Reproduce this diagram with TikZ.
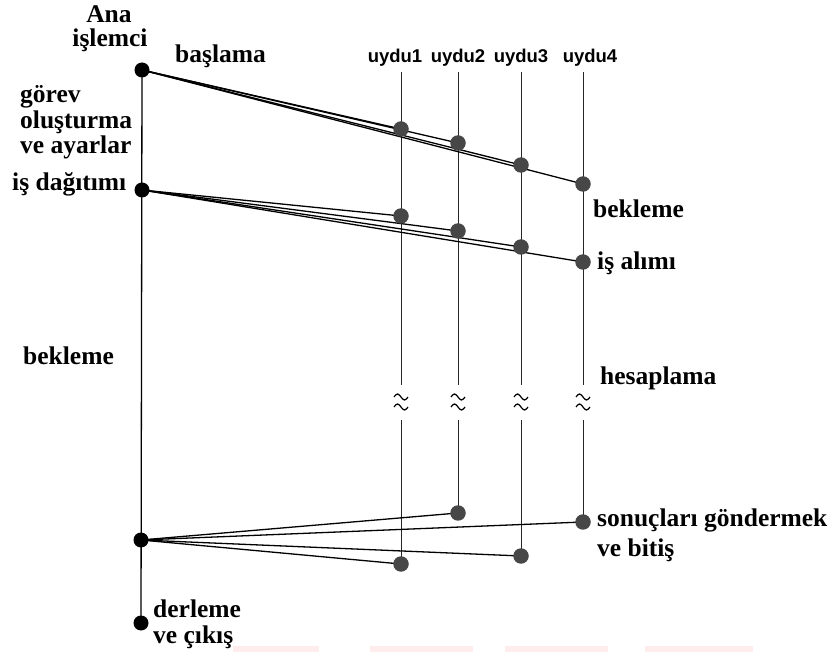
\documentclass[tikz,border=0pt]{standalone}
\usepackage{fontspec}
\setmainfont{Liberation Serif}
\newfontfamily\labsans{Liberation Sans}
\pgfdeclarelayer{bg}
\pgfsetlayers{bg,main}
\tikzset{
  lab/.style={font=\bfseries\fontsize{25.5}{25.5}\selectfont, inner sep=0pt, anchor=base west},
  labc/.style={lab, anchor=base},
  sat/.style={font=\labsans\bfseries\fontsize{18.5}{18.5}\selectfont, inner sep=0pt, anchor=base},
  maindot/.style={circle, fill=black, minimum size=15pt, inner sep=0pt},
  satdot/.style={circle, fill=black!72, minimum size=15.5pt, inner sep=0pt},
  msg/.style={line width=1.3pt, black},
  life/.style={line width=1pt, black!85},
  apx/.pic={
    \draw[line width=1.2pt] (-7,-5) sin (-3.5,-8) cos (0,-5) sin (3.5,-2) cos (7,-5);
    \draw[line width=1.2pt] (-7,5) sin (-3.5,2) cos (0,5) sin (3.5,8) cos (7,5);
  }
}
\begin{document}
\begin{tikzpicture}[x=1pt,y=-1pt]
\useasboundingbox (0,0) rectangle (831,652);
% faint background bands
\fill[red!7] (233,646) rectangle (319,652);
\fill[red!7] (370,646) rectangle (473,652);
\fill[red!7] (505,646) rectangle (608,652);
\fill[red!7] (645,646) rectangle (753,652);

% main processor dots
\node[maindot] (T) at (142,70) {};
\node[maindot] (D) at (142,190) {};
\node[maindot] (C) at (141,540) {};
\node[maindot] (B) at (141,623) {};

% satellite dots
\node[satdot] (s1) at (401,129) {};
\node[satdot] (s2) at (458,143) {};
\node[satdot] (s3) at (521,165) {};
\node[satdot] (s4) at (583,184) {};
\node[satdot] (r1) at (401,216) {};
\node[satdot] (r2) at (458,231) {};
\node[satdot] (r3) at (521,247) {};
\node[satdot] (r4) at (583,262) {};
\node[satdot] (e1) at (401,564) {};
\node[satdot] (e2) at (458,513) {};
\node[satdot] (e3) at (521,556) {};
\node[satdot] (e4) at (583,522) {};

% satellite line ends
\coordinate (t1) at (401,72);  \coordinate (a1) at (401,385); \coordinate (b1) at (401,420);
\coordinate (t2) at (458,72);  \coordinate (a2) at (458,385); \coordinate (b2) at (458,420);
\coordinate (t3) at (521,72);  \coordinate (a3) at (521,385); \coordinate (b3) at (521,420);
\coordinate (t4) at (583,72);  \coordinate (a4) at (583,385); \coordinate (b4) at (583,420);

\begin{pgfonlayer}{bg}
  \draw[msg] (T.center) -- (B.center);
  \foreach \i in {1,2,3,4}{
    \draw[life] (t\i) -- (a\i);
    \draw[life] (b\i) -- (e\i.center);
    \draw[msg] (T.center) -- (s\i.center);
    \draw[msg] (D.center) -- (r\i.center);
    \draw[msg] (C.center) -- (e\i.center);
  }
\end{pgfonlayer}

\pic at (401,402) {apx};
\pic at (458,402) {apx};
\pic at (521,402) {apx};
\pic at (583,402) {apx};

% labels
\node[labc] (ana) at (109,23) {Ana};
\node[labc] (isl) at (110,47) {işlemci};
\node[lab] (bas) at (175,63) {başlama};
\node[lab] (gor) at (20,103) {görev};
\node[lab] (olu) at (20,129) {oluşturma};
\node[lab] (ayr) at (20,154) {ve ayarlar};
\node[lab] (isd) at (12,191) {iş dağıtımı};
\node[lab] (bk1) at (23,365) {bekleme};
\node[sat] (u1) at (395,63) {uydu1};
\node[sat] (u2) at (458,63) {uydu2};
\node[sat] (u3) at (521,63) {uydu3};
\node[sat] (u4) at (590,63) {uydu4};
\node[lab] (bk2) at (593,218) {bekleme};
\node[lab] (isa) at (597,270) {iş alımı};
\node[lab] (hes) at (600,385) {hesaplama};
\node[lab] (son) at (597,527) {sonuçları göndermek};
\node[lab] (bit) at (597,556) {ve bitiş};
\node[lab] (der) at (153,617) {derleme};
\node[lab] (cik) at (153,643) {ve çıkış};
\end{tikzpicture}
\end{document}
